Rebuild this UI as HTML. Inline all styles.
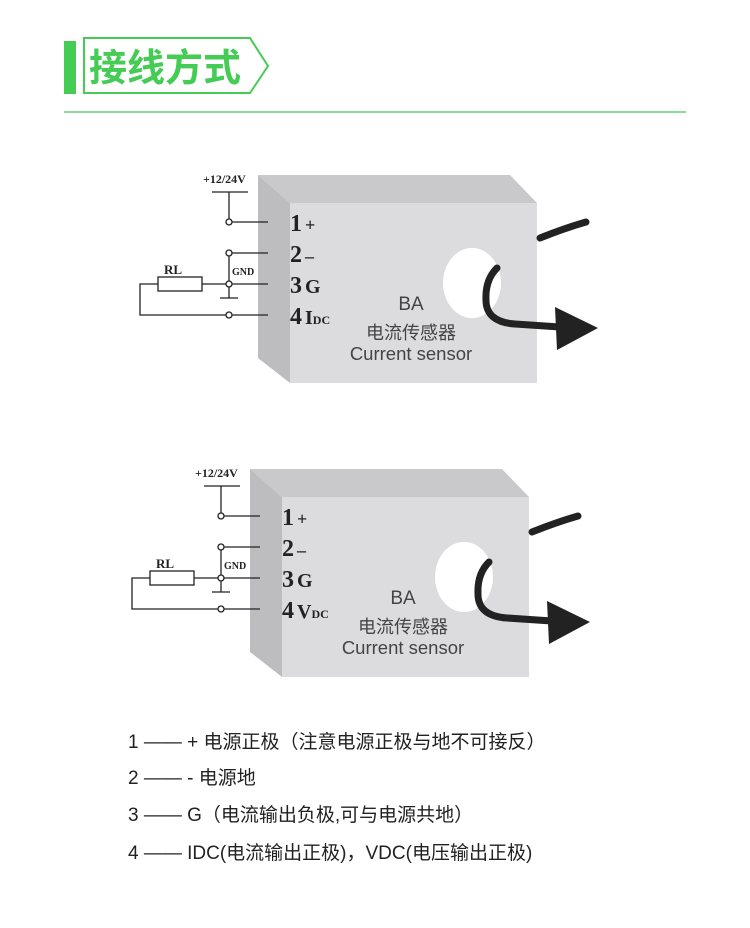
<!DOCTYPE html>
<html><head><meta charset="utf-8"><style>
body{margin:0;background:#fff;width:750px;height:928px;overflow:hidden;font-family:"Liberation Sans","Noto Sans CJK SC",sans-serif}
.leg{position:absolute;left:128px;font-size:19px;color:#222;white-space:nowrap}
</style></head><body>
<svg width="750" height="928" style="position:absolute;left:0;top:0">
<rect x="64" y="41" width="12" height="53" fill="#44cc55"/>
<polygon points="84,38 250,38 268,66 250,93 84,93" fill="none" stroke="#44cc55" stroke-width="2"/>
<text x="89" y="81" font-size="38" font-weight="bold" fill="#44cc55" font-family="Noto Sans CJK SC,sans-serif">接线方式</text>
<line x1="64" y1="112" x2="686" y2="112" stroke="#88dd99" stroke-width="2"/>
<defs>
<g id="d">
<polygon points="258,175 510,175 537,203 290,203" fill="#c9c9cb"/>
<polygon points="258,175 290,203 290,383 258,358" fill="#bdbdbf"/>
<rect x="290" y="203" width="247" height="180" fill="#dcdcde"/>
<ellipse cx="472" cy="283" rx="29" ry="35" fill="#fff"/>
<g stroke="#222" stroke-width="1.3" fill="none">
<line x1="212" y1="192" x2="248" y2="192"/>
<line x1="229" y1="192" x2="229" y2="219"/>
<line x1="232" y1="222" x2="268" y2="222"/>
<line x1="232" y1="253" x2="268" y2="253"/>
<line x1="229" y1="256" x2="229" y2="298"/>
<line x1="220" y1="298" x2="238" y2="298"/>
<line x1="202" y1="284" x2="268" y2="284"/>
<rect x="158" y="277" width="44" height="14"/>
<polyline points="158,284 140,284 140,315 226,315"/>
<line x1="232" y1="315" x2="268" y2="315"/>
<circle cx="229" cy="222" r="3" fill="#fff"/>
<circle cx="229" cy="253" r="3" fill="#fff"/>
<circle cx="229" cy="284" r="3" fill="#fff"/>
<circle cx="229" cy="315" r="3" fill="#fff"/>
</g>
<g font-family="Liberation Serif,serif" font-weight="bold" fill="#222">
<text x="203" y="183" font-size="12">+12/24V</text>
<text x="164" y="274" font-size="13">RL</text>
<text x="232" y="275" font-size="10">GND</text>
<text x="290" y="231" font-size="24">1<tspan font-size="18" dx="3">+</tspan></text>
<text x="290" y="262" font-size="24">2<tspan font-size="18" dx="3">–</tspan></text>
<text x="290" y="293" font-size="24">3<tspan font-size="20" dx="3">G</tspan></text>
</g>
<g fill="#444" text-anchor="middle">
<text x="411" y="310" font-size="19">BA</text>
<text x="411" y="339" font-size="18" font-family="Noto Sans CJK SC,sans-serif">电流传感器</text>
<text x="411" y="360" font-size="18.5">Current sensor</text>
</g>
<g stroke="#222" stroke-width="7" fill="none" stroke-linecap="round">
<path d="M540,238 Q565,228 586,222"/>
<path d="M497,268 Q485,280 486,300 Q486,322 515,324 L560,327"/>
</g>
<polygon points="555,307 598,328 557,350" fill="#222"/>
</g>
</defs>
<use href="#d"/>
<text x="290" y="324" font-size="24" font-weight="bold" fill="#222" font-family="Liberation Serif,serif">4<tspan dx="3" font-size="20">I</tspan><tspan font-size="12">DC</tspan></text>
<g transform="translate(-8,294)">
<use href="#d"/>
<text x="290" y="324" font-size="24" font-weight="bold" fill="#222" font-family="Liberation Serif,serif">4<tspan dx="3" font-size="20">V</tspan><tspan font-size="12">DC</tspan></text>
</g>
</svg>
<div class="leg" style="top:727px">1 —— + 电源正极（注意电源正极与地不可接反）</div>
<div class="leg" style="top:763px">2 —— - 电源地</div>
<div class="leg" style="top:800px">3 —— G（电流输出负极,可与电源共地）</div>
<div class="leg" style="top:838px">4 —— IDC(电流输出正极)，VDC(电压输出正极)</div>
</body></html>
